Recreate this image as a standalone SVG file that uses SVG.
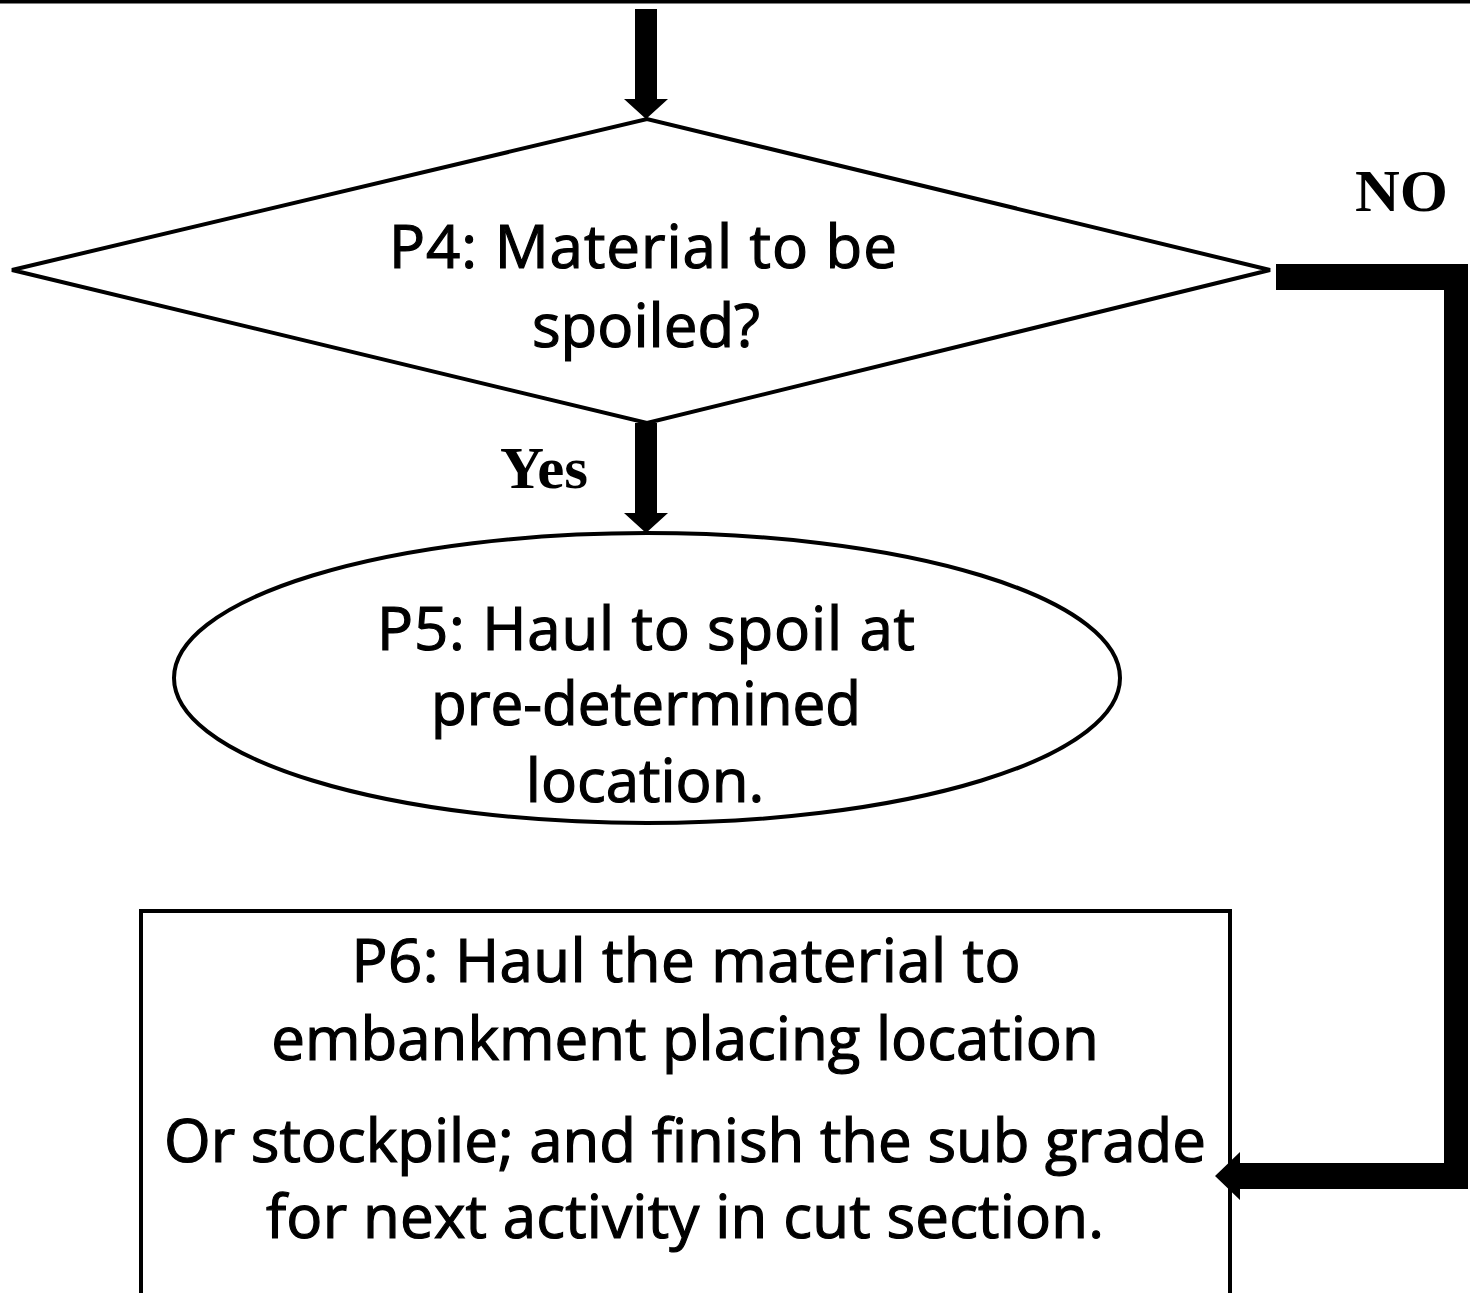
<svg xmlns="http://www.w3.org/2000/svg" width="1470" height="1293" viewBox="0 0 1470 1293">
<style>
.shape{fill:#fff;stroke:#000;stroke-width:4}
.t{font-family:"Open Sans","Lato",sans-serif;font-size:60px;fill:#000;stroke:#000;stroke-width:1.2;text-anchor:middle}
.lbl{font-family:"Liberation Serif",serif;font-weight:bold;font-size:60px;fill:#000}
.conn{fill:#000;stroke:none}
</style>
<rect x="0" y="0" width="1470" height="1293" fill="#fff"/>
<line x1="0" y1="1.5" x2="1470" y2="1.5" stroke="#000" stroke-width="4"/>
<g id="p4">
<polygon class="shape" points="12,270 647,119 1270,270 647,423"/>
<text class="t" x="643" y="268" textLength="508">P4: Material to be</text>
<text class="t" x="646" y="347">spoiled?</text>
</g>
<g id="p5">
<ellipse class="shape" cx="647" cy="678" rx="473" ry="145"/>
<text class="t" x="646" y="650" textLength="538">P5: Haul to spoil at</text>
<text class="t" x="646" y="725" textLength="430" lengthAdjust="spacingAndGlyphs">pre-determined</text>
<text class="t" x="645" y="802">location.</text>
</g>
<g id="p6">
<rect class="shape" x="141" y="911" width="1089" height="400"/>
<text class="t" x="686" y="982" textLength="669">P6: Haul the material to</text>
<text class="t" x="685" y="1060">embankment placing location</text>
<text class="t" x="685" y="1162">Or stockpile; and finish the sub grade</text>
<text class="t" x="685" y="1238" textLength="838">for next activity in cut section.</text>
</g>
<g id="connectors">
<polygon class="conn" points="635,9 657,9 657,99 668,99 646,119 624,99 635,99"/>
<polygon class="conn" points="635,423 657,423 657,513 668,513 646,533 624,513 635,513"/>
<path class="conn" d="M1276,264 L1468,264 L1468,1189 L1240,1189 L1240,1200 L1215,1176 L1240,1152 L1240,1163 L1444,1163 L1444,290 L1276,290 Z"/>
<text class="lbl" x="1355" y="211" textLength="93" lengthAdjust="spacingAndGlyphs">NO</text>
<text class="lbl" x="500" y="488" textLength="88" lengthAdjust="spacingAndGlyphs">Yes</text>
</g>
</svg>
